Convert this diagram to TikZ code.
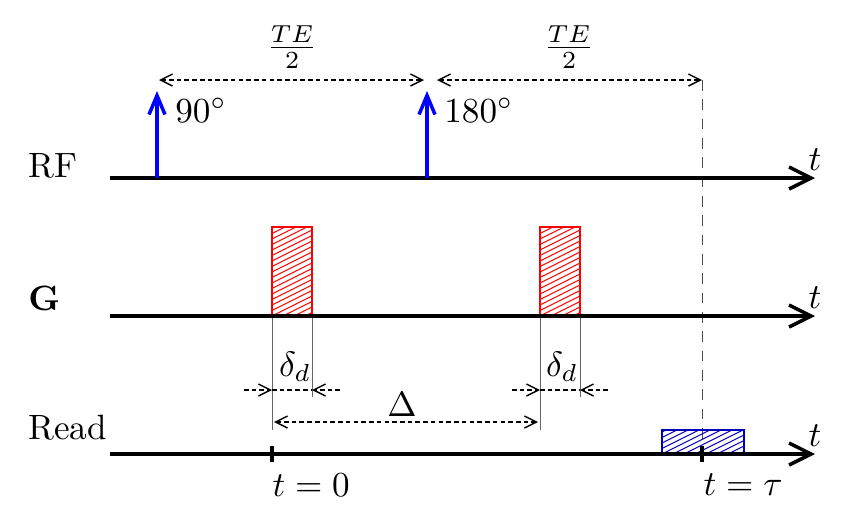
\documentclass[tikz,border=0pt]{standalone}
\usepackage{amsmath}
\usetikzlibrary{arrows.meta, positioning}

\begin{document}
\begin{tikzpicture}[
    axis/.style={line width=1pt, -{Straight Barb[length=2.2mm, width=2.2mm]}},
    pulse/.style={line width=1pt, blue, -{Straight Barb[length=1.9mm, width=1.6mm]}},
    span/.style={thin, dash pattern=on 1.3pt off 0.9pt},
    both/.style={span, {Straight Barb[length=1.2mm, width=1.2mm]}-{Straight Barb[length=1.2mm, width=1.2mm]}},
    into/.style={span, -{Straight Barb[length=1.2mm, width=1.2mm]}},
    guide/.style={very thin, black!60},
    hatch/.style={line width=0.3pt}
]
    \useasboundingbox (0,0) rectangle (8.55,5.21);
    % Ejes de tiempo
    \coordinate (rf0) at (1.10,3.43); \coordinate (rf1) at (8.15,3.43);
    \coordinate (g0) at (1.10,2.05);  \coordinate (g1) at (8.15,2.05);
    \coordinate (rd0) at (1.10,0.67); \coordinate (rd1) at (8.15,0.67);
    \coordinate (echo) at (7.02,0.67);
    \coordinate (zero) at (2.72,0.67);
    % Linea del eco
    \draw[very thin, black!70, dash pattern=on 3pt off 2.5pt] (7.02,4.41) -- (echo);
    % Gradientes (rayado a mano)
    \foreach \x in {2.72,5.40} {
        \begin{scope}
            \clip (\x,2.05) rectangle ++(0.40,0.89);
            \foreach \k in {-4,...,17} \draw[hatch, red] (\x,2.05+\k*0.055) -- ++(0.40,0.20);
        \end{scope}
        \draw[red] (\x,2.05) rectangle ++(0.40,0.89);
    }
    % Lectura
    \begin{scope}
        \clip (6.62,0.67) rectangle (7.44,0.91);
        \foreach \k in {-8,...,5} \draw[hatch, blue!75!black] (6.62,0.67+\k*0.055) -- ++(0.82,0.41);
    \end{scope}
    \draw[blue!75!black] (6.62,0.67) rectangle (7.44,0.91);
    \draw[guide] (2.72,2.05) -- (2.72,0.91);
    \draw[guide] (3.12,2.05) -- (3.12,1.24);
    \draw[guide] (5.40,2.05) -- (5.40,0.91);
    \draw[guide] (5.80,2.05) -- (5.80,1.24);
    \draw[axis] (rf0) -- (rf1) node[above, inner sep=1.5pt] (rft) {$t$}; % RF
    \draw[axis] (g0) -- (g1) node[above, inner sep=1.5pt] (gt) {$t$}; % G
    \draw[axis] (rd0) -- (rd1) node[above, inner sep=1.5pt] (rdt) {$t$}; % Read
    \node[right] (rflab) at (0.16,3.55) {RF};
    \node[right] (glab) at (0.16,2.23) {$\mathbf{G}$};
    \node[right] (rdlab) at (0.16,0.93) {Read};
    % Pulsos de RF
    \draw[pulse] (1.57,3.43) -- (1.57,4.30) coordinate (top90);
    \draw[pulse] (4.27,3.43) -- (4.27,4.30) coordinate (top180);
    \node[right] (l90) at (1.63,4.11) {$90^\circ$};
    \node[right] (l180) at (4.32,4.11) {$180^\circ$};
    % Tiempo de eco
    \draw[both] (1.59,4.41) -- (4.24,4.41);
    \draw[both] (4.37,4.41) -- (7.02,4.41);
    \node (te1) at (2.92,4.74) {$\frac{TE}{2}$};
    \node (te2) at (5.69,4.74) {$\frac{TE}{2}$};
    % Duraciones
    \draw[into] (2.44,1.31) -- (2.72,1.31);
    \draw[span] (2.72,1.31) -- (3.12,1.31);
    \draw[into] (3.40,1.31) -- (3.12,1.31);
    \draw[into] (5.12,1.31) -- (5.40,1.31);
    \draw[span] (5.40,1.31) -- (5.80,1.31);
    \draw[into] (6.08,1.31) -- (5.80,1.31);
    \node (d1) at (2.95,1.54) {$\delta_d$};
    \node (d2) at (5.62,1.54) {$\delta_d$};
    \draw[both] (2.74,0.99) -- (5.38,0.99);
    \node (bigD) at (4.02,1.17) {$\Delta$};
    % Marcas en el eje de lectura
    \draw[very thick] (2.72,0.75) -- (2.72,0.59);
    \draw[very thick] (7.02,0.75) -- (7.02,0.59);
    \node[anchor=west, inner sep=0pt] (t0) at (2.72,0.36) {$t=0$};
    \node[anchor=west, inner sep=0pt] (ttau) at (7.03,0.36) {$t=\tau$};
\end{tikzpicture}
\end{document}
